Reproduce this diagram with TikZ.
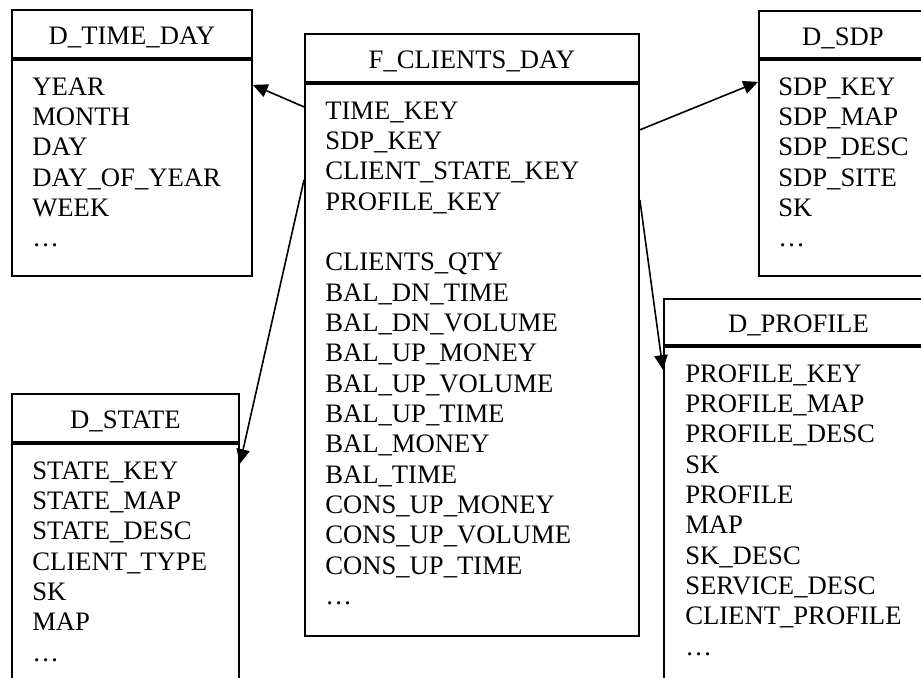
\documentclass[tikz,border=0pt]{standalone}
\usepackage{fontspec}
\setmainfont{Liberation Serif}
\usepackage{tikz}
\usetikzlibrary{arrows.meta, positioning, calc}

\begin{document}
\begin{tikzpicture}[
    x=0.75pt, y=-0.75pt,
    tabfont/.style={font=\fontsize{20pt}{22.75pt}\selectfont},
    tabhead/.style={draw, line width=1.4pt, anchor=north west, inner sep=0pt,
                    minimum height=36pt, text height=17.5pt, text depth=1pt,
                    tabfont},
    tabbody/.style={draw, line width=1.4pt, inner sep=0pt},
    fields/.style={inner sep=0pt, align=left, tabfont},
    link/.style={-{Triangle[length=11pt, width=10pt]}, line width=1.2pt}
  ]
    \useasboundingbox (0,0) rectangle (921,678);
    \clip (0,0) rectangle (921,678);

    % D_TIME_DAY
    \node[tabhead, minimum width=180pt] (timehead) at (11,9) {D\_TIME\_DAY};
    \node[tabbody, minimum width=180pt, minimum height=162pt,
          below=0pt of timehead] (timebody) {};
    \node[fields, below right=13.8pt and 15.75pt of timebody.north west] (timefields)
      {YEAR\\ MONTH\\ DAY\\ DAY\_OF\_YEAR\\ WEEK\\ …};

    % F_CLIENTS_DAY
    \node[tabhead, minimum width=250.5pt] (fhead) at (304,33) {F\_CLIENTS\_DAY};
    \node[tabbody, minimum width=250.5pt, minimum height=414pt,
          below=0pt of fhead] (fbody) {};
    \node[fields, below right=13.8pt and 15.75pt of fbody.north west] (ffields)
      {TIME\_KEY\\ SDP\_KEY\\ CLIENT\_STATE\_KEY\\ PROFILE\_KEY\\ \mbox{}\\
       CLIENTS\_QTY\\ BAL\_DN\_TIME\\ BAL\_DN\_VOLUME\\ BAL\_UP\_MONEY\\
       BAL\_UP\_VOLUME\\ BAL\_UP\_TIME\\ BAL\_MONEY\\ BAL\_TIME\\
       CONS\_UP\_MONEY\\ CONS\_UP\_VOLUME\\ CONS\_UP\_TIME\\ …};

    % D_SDP
    \node[tabhead, minimum width=126pt, minimum height=35.25pt] (sdphead) at (758,10) {D\_SDP};
    \node[tabbody, minimum width=126pt, minimum height=162pt,
          below=0pt of sdphead] (sdpbody) {};
    \node[fields, below right=13.8pt and 15pt of sdpbody.north west] (sdpfields)
      {SDP\_KEY\\ SDP\_MAP\\ SDP\_DESC\\ SDP\_SITE\\ SK\\ …};

    % D_STATE
    \node[tabhead, minimum width=170.25pt] (statehead) at (11,393) {D\_STATE};
    \node[tabbody, minimum width=170.25pt, minimum height=225pt,
          below=0pt of statehead] (statebody) {};
    \node[fields, below right=13.8pt and 15.75pt of statebody.north west] (statefields)
      {STATE\_KEY\\ STATE\_MAP\\ STATE\_DESC\\ CLIENT\_TYPE\\ SK\\ MAP\\ …};

    % D_PROFILE
    \node[tabhead, minimum width=201.75pt, minimum height=34.5pt] (profhead) at (663,298) {D\_PROFILE};
    \node[tabbody, minimum width=201.75pt, minimum height=300pt,
          below=0pt of profhead] (profbody) {};
    \node[fields, below right=13.8pt and 16.5pt of profbody.north west] (proffields)
      {PROFILE\_KEY\\ PROFILE\_MAP\\ PROFILE\_DESC\\ SK\\ PROFILE\\ MAP\\
       SK\_DESC\\ SERVICE\_DESC\\ CLIENT\_PROFILE\\ …};

    % Arrows
    \draw[link] ($(fbody.north west)+(0,24)$) -- ($(timebody.north east)+(0,26)$);
    \draw[link] ($(fbody.north east)+(0,47)$) -- ($(sdpbody.north west)+(0,23)$);
    \draw[link] ($(fbody.north west)+(0,97)$) -- ($(statebody.north east)+(0,21)$);
    \draw[link] ($(fbody.north east)+(0,117)$) -- ($(profbody.north west)+(0,24)$);
  \end{tikzpicture}
\end{document}
